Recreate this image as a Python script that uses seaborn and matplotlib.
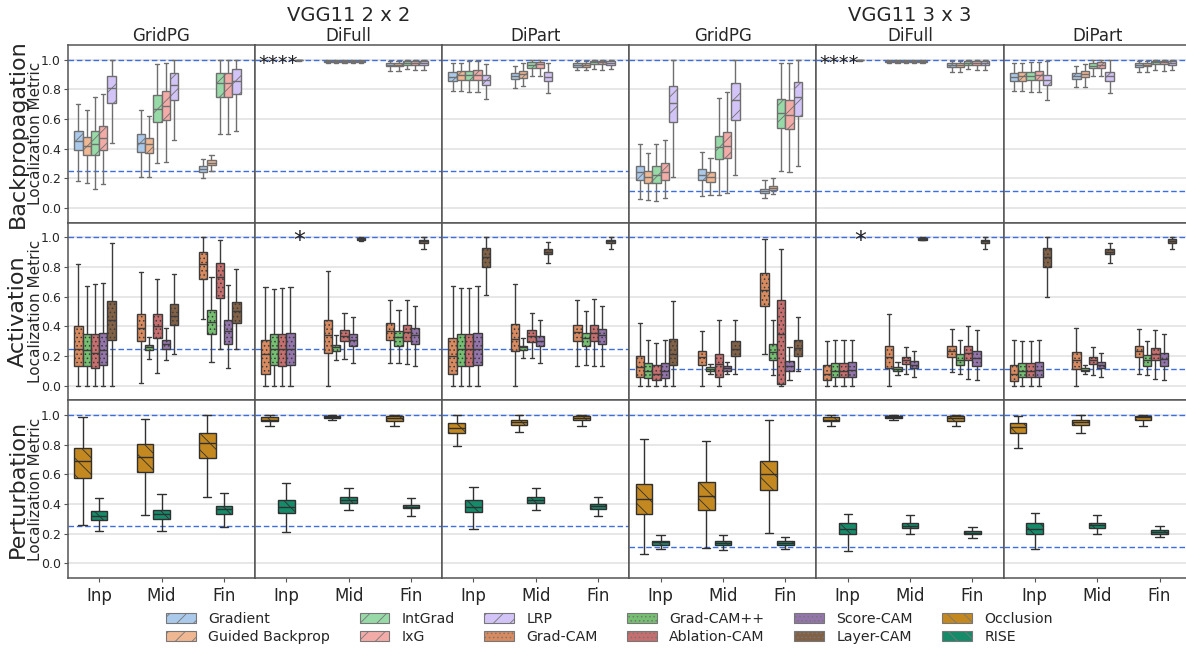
import numpy as np
import pandas as pd
import seaborn as sns
import matplotlib.pyplot as plt
from matplotlib.patches import Patch

# Inputs ---------------------------------------
LAYERS = ['Inp', 'Mid', 'Fin']
SETTINGS = ['GridPG', 'DiFull', 'DiPart']
BP_METHODS = ['Gradient', 'Guided Backprop', 'IntGrad', 'IxG', 'LRP']
ACT_METHODS = ['Grad-CAM', 'Grad-CAM++', 'Ablation-CAM', 'Score-CAM', 'Layer-CAM']
PT_METHODS = ['Occlusion', 'RISE']

# each box: [lower whisker, q1, median, q3, upper whisker]; None -> marked with '*'
BP_GRIDPG_2 = [
    [[0.18, 0.39, 0.45, 0.52, 0.70], [0.17, 0.36, 0.42, 0.48, 0.66], [0.13, 0.36, 0.43, 0.52, 0.75],
     [0.16, 0.39, 0.47, 0.55, 0.77], [0.44, 0.71, 0.81, 0.89, 1.00]],
    [[0.21, 0.38, 0.44, 0.50, 0.66], [0.21, 0.37, 0.43, 0.47, 0.62], [0.30, 0.58, 0.67, 0.76, 0.97],
     [0.31, 0.59, 0.69, 0.79, 0.98], [0.46, 0.73, 0.83, 0.91, 1.00]],
    [[0.20, 0.245, 0.26, 0.28, 0.33], [0.25, 0.29, 0.30, 0.32, 0.36], [0.50, 0.75, 0.84, 0.91, 1.00],
     [0.50, 0.75, 0.84, 0.91, 1.00], [0.52, 0.77, 0.86, 0.94, 1.00]],
]
BP_DIFULL_2 = [
    [None, None, None, None, [0.99, 1.0, 1.0, 1.0, 1.0]],
    [[0.978, 0.986, 0.99, 0.994, 1.0], [0.978, 0.985, 0.99, 0.994, 1.0], [0.98, 0.987, 0.991, 0.995, 1.0],
     [0.98, 0.987, 0.991, 0.995, 1.0], [0.978, 0.986, 0.99, 0.994, 1.0]],
    [[0.925, 0.957, 0.967, 0.978, 0.995], [0.925, 0.955, 0.965, 0.978, 0.995], [0.94, 0.968, 0.975, 0.99, 1.0],
     [0.93, 0.968, 0.978, 0.99, 1.0], [0.93, 0.966, 0.975, 0.99, 1.0]],
]
BP_DIPART_2 = [
    [[0.79, 0.86, 0.886, 0.92, 0.975], [0.79, 0.865, 0.895, 0.925, 0.98], [0.78, 0.865, 0.895, 0.925, 0.99],
     [0.78, 0.865, 0.90, 0.93, 0.99], [0.735, 0.83, 0.865, 0.90, 0.97]],
    [[0.81, 0.87, 0.89, 0.91, 0.96], [0.82, 0.88, 0.905, 0.927, 0.975], [0.89, 0.946, 0.966, 0.984, 1.0],
     [0.89, 0.946, 0.97, 0.988, 1.0], [0.775, 0.855, 0.886, 0.916, 0.975]],
    [[0.93, 0.952, 0.966, 0.98, 0.995], [0.93, 0.95, 0.965, 0.98, 0.995], [0.935, 0.97, 0.985, 0.995, 1.0],
     [0.93, 0.97, 0.982, 0.992, 1.0], [0.935, 0.968, 0.98, 0.992, 1.0]],
]
BP_GRIDPG_3 = [
    [[0.06, 0.19, 0.24, 0.28, 0.43], [0.055, 0.17, 0.21, 0.25, 0.37], [0.045, 0.17, 0.22, 0.28, 0.43],
     [0.065, 0.19, 0.24, 0.30, 0.46], [0.21, 0.58, 0.71, 0.82, 1.00]],
    [[0.08, 0.19, 0.225, 0.265, 0.38], [0.09, 0.175, 0.21, 0.24, 0.34], [0.09, 0.33, 0.41, 0.485, 0.74],
     [0.10, 0.34, 0.42, 0.51, 0.78], [0.22, 0.59, 0.73, 0.84, 1.00]],
    [[0.065, 0.10, 0.115, 0.13, 0.185], [0.095, 0.12, 0.135, 0.15, 0.20], [0.25, 0.54, 0.64, 0.735, 0.98],
     [0.24, 0.535, 0.63, 0.73, 0.98], [0.28, 0.62, 0.75, 0.85, 1.00]],
]
BP_DIFULL_3 = [
    [None, None, None, None, [0.99, 1.0, 1.0, 1.0, 1.0]],
    [[0.978, 0.986, 0.99, 0.994, 1.0], [0.978, 0.985, 0.99, 0.994, 1.0], [0.98, 0.987, 0.991, 0.995, 1.0],
     [0.98, 0.987, 0.991, 0.995, 1.0], [0.978, 0.986, 0.99, 0.994, 1.0]],
    [[0.92, 0.952, 0.962, 0.975, 0.995], [0.92, 0.952, 0.962, 0.975, 0.995], [0.935, 0.966, 0.975, 0.99, 1.0],
     [0.93, 0.966, 0.976, 0.99, 1.0], [0.93, 0.964, 0.975, 0.99, 1.0]],
]
BP_DIPART_3 = [
    [[0.79, 0.86, 0.886, 0.91, 0.975], [0.79, 0.86, 0.893, 0.92, 0.98], [0.78, 0.865, 0.893, 0.92, 0.985],
     [0.78, 0.866, 0.898, 0.923, 0.985], [0.73, 0.83, 0.866, 0.90, 0.99]],
    [[0.814, 0.871, 0.891, 0.909, 0.957], [0.818, 0.882, 0.905, 0.925, 0.973], [0.89, 0.943, 0.961, 0.98, 1.0],
     [0.893, 0.946, 0.968, 0.984, 1.0], [0.775, 0.859, 0.889, 0.916, 1.0]],
    [[0.916, 0.952, 0.965, 0.977, 0.995], [0.916, 0.955, 0.966, 0.98, 0.995], [0.934, 0.973, 0.985, 0.995, 1.0],
     [0.927, 0.973, 0.982, 0.995, 1.0], [0.934, 0.968, 0.98, 0.995, 1.0]],
]

ACT_GRIDPG_2 = [
    [[0.0, 0.13, 0.25, 0.40, 0.82], [0.0, 0.135, 0.24, 0.35, 0.67], [0.0, 0.12, 0.22, 0.345, 0.685],
     [0.0, 0.14, 0.24, 0.355, 0.69], [0.0, 0.31, 0.44, 0.57, 0.965]],
    [[0.02, 0.30, 0.39, 0.485, 0.77], [0.18, 0.237, 0.26, 0.275, 0.33], [0.085, 0.32, 0.40, 0.48, 0.72],
     [0.17, 0.25, 0.28, 0.305, 0.39], [0.215, 0.41, 0.47, 0.55, 0.755]],
    [[0.45, 0.72, 0.82, 0.90, 1.0], [0.16, 0.35, 0.43, 0.51, 0.73], [0.25, 0.59, 0.73, 0.83, 0.98],
     [0.12, 0.28, 0.37, 0.44, 0.68], [0.25, 0.42, 0.50, 0.565, 0.785]],
]
ACT_DIFULL_2 = [
    [[0.0, 0.075, 0.215, 0.31, 0.665], [0.0, 0.14, 0.25, 0.35, 0.655], [0.0, 0.135, 0.25, 0.35, 0.66],
     [0.0, 0.14, 0.25, 0.355, 0.665], None],
    [[0.0, 0.22, 0.34, 0.445, 0.775], [0.17, 0.233, 0.257, 0.276, 0.34], [0.18, 0.30, 0.335, 0.373, 0.49],
     [0.15, 0.265, 0.305, 0.345, 0.46], [0.975, 0.985, 0.99, 0.993, 1.0]],
    [[0.155, 0.31, 0.365, 0.42, 0.58], [0.15, 0.27, 0.33, 0.365, 0.51], [0.145, 0.30, 0.36, 0.41, 0.58],
     [0.135, 0.28, 0.34, 0.39, 0.54], [0.925, 0.96, 0.975, 0.985, 1.0]],
]
ACT_DIPART_2 = [
    [[0.0, 0.08, 0.20, 0.32, 0.67], [0.0, 0.135, 0.25, 0.35, 0.66], [0.0, 0.135, 0.25, 0.35, 0.66],
     [0.0, 0.14, 0.25, 0.355, 0.67], [0.61, 0.80, 0.87, 0.93, 1.0]],
    [[0.0, 0.23, 0.315, 0.415, 0.685], [0.185, 0.237, 0.26, 0.27, 0.32], [0.185, 0.295, 0.335, 0.373, 0.49],
     [0.15, 0.265, 0.30, 0.335, 0.44], [0.83, 0.885, 0.905, 0.92, 0.97]],
    [[0.135, 0.30, 0.36, 0.41, 0.58], [0.14, 0.27, 0.32, 0.355, 0.50], [0.13, 0.30, 0.355, 0.41, 0.585],
     [0.135, 0.28, 0.34, 0.385, 0.535], [0.925, 0.96, 0.975, 0.985, 1.0]],
]
ACT_GRIDPG_3 = [
    [[0.0, 0.055, 0.125, 0.20, 0.425], [0.0, 0.05, 0.10, 0.15, 0.305], [0.0, 0.04, 0.08, 0.14, 0.29],
     [0.0, 0.05, 0.10, 0.15, 0.31], [0.0, 0.14, 0.215, 0.315, 0.57]],
    [[0.0, 0.14, 0.19, 0.23, 0.37], [0.08, 0.10, 0.113, 0.124, 0.147], [0.0, 0.055, 0.145, 0.21, 0.44],
     [0.075, 0.10, 0.117, 0.13, 0.158], [0.08, 0.20, 0.25, 0.30, 0.44]],
    [[0.215, 0.535, 0.645, 0.76, 0.99], [0.07, 0.175, 0.225, 0.28, 0.44], [0.0, 0.007, 0.35, 0.58, 0.92],
     [0.035, 0.10, 0.13, 0.163, 0.26], [0.095, 0.20, 0.255, 0.31, 0.465]],
]
ACT_DIFULL_3 = [
    [[0.0, 0.035, 0.08, 0.14, 0.30], [0.0, 0.055, 0.10, 0.15, 0.305], [0.0, 0.055, 0.10, 0.15, 0.305],
     [0.0, 0.055, 0.105, 0.158, 0.305], None],
    [[0.0, 0.12, 0.19, 0.265, 0.485], [0.07, 0.097, 0.113, 0.124, 0.158], [0.075, 0.147, 0.175, 0.196, 0.26],
     [0.06, 0.12, 0.14, 0.165, 0.235], [0.98, 0.985, 0.99, 0.995, 1.0]],
    [[0.09, 0.19, 0.23, 0.265, 0.385], [0.075, 0.14, 0.175, 0.21, 0.31], [0.045, 0.17, 0.22, 0.265, 0.40],
     [0.04, 0.135, 0.185, 0.23, 0.375], [0.925, 0.96, 0.975, 0.985, 1.0]],
]
ACT_DIPART_3 = [
    [[0.0, 0.03, 0.08, 0.14, 0.31], [0.0, 0.055, 0.10, 0.15, 0.30], [0.0, 0.055, 0.10, 0.15, 0.30],
     [0.0, 0.055, 0.105, 0.158, 0.305], [0.595, 0.80, 0.865, 0.93, 1.0]],
    [[0.0, 0.113, 0.17, 0.225, 0.39], [0.075, 0.097, 0.108, 0.12, 0.14], [0.072, 0.147, 0.17, 0.19, 0.26],
     [0.056, 0.117, 0.14, 0.158, 0.22], [0.83, 0.885, 0.905, 0.925, 0.965]],
    [[0.075, 0.19, 0.23, 0.265, 0.385], [0.07, 0.135, 0.17, 0.205, 0.30], [0.045, 0.17, 0.215, 0.255, 0.375],
     [0.04, 0.135, 0.18, 0.22, 0.35], [0.925, 0.96, 0.975, 0.99, 1.0]],
]

PT_GRIDPG_2 = [
    [[0.26, 0.575, 0.69, 0.78, 0.99], [0.215, 0.295, 0.32, 0.35, 0.44]],
    [[0.325, 0.615, 0.715, 0.805, 0.975], [0.215, 0.30, 0.335, 0.36, 0.465]],
    [[0.45, 0.71, 0.81, 0.88, 1.0], [0.245, 0.33, 0.365, 0.385, 0.475]],
]
PT_DIFULL_2 = [
    [[0.925, 0.96, 0.97, 0.985, 1.0], [0.21, 0.34, 0.38, 0.43, 0.54]],
    [[0.97, 0.98, 0.988, 0.995, 1.0], [0.36, 0.41, 0.43, 0.45, 0.505]],
    [[0.925, 0.96, 0.98, 0.995, 1.0], [0.32, 0.37, 0.38, 0.395, 0.44]],
]
PT_DIPART_2 = [
    [[0.79, 0.88, 0.915, 0.95, 1.0], [0.23, 0.345, 0.38, 0.425, 0.515]],
    [[0.885, 0.935, 0.957, 0.97, 1.0], [0.36, 0.41, 0.43, 0.45, 0.505]],
    [[0.93, 0.97, 0.982, 0.995, 1.0], [0.32, 0.367, 0.383, 0.40, 0.445]],
]
PT_GRIDPG_3 = [
    [[0.065, 0.335, 0.435, 0.535, 0.84], [0.093, 0.126, 0.142, 0.153, 0.19]],
    [[0.105, 0.36, 0.455, 0.55, 0.825], [0.09, 0.12, 0.138, 0.15, 0.19]],
    [[0.205, 0.495, 0.60, 0.69, 0.97], [0.097, 0.124, 0.138, 0.149, 0.18]],
]
PT_DIFULL_3 = [
    [[0.925, 0.96, 0.97, 0.985, 1.0], [0.08, 0.195, 0.23, 0.27, 0.335]],
    [[0.97, 0.98, 0.988, 0.995, 1.0], [0.20, 0.236, 0.25, 0.273, 0.327]],
    [[0.925, 0.96, 0.98, 0.992, 1.0], [0.17, 0.194, 0.205, 0.216, 0.243]],
]
PT_DIPART_3 = [
    [[0.78, 0.88, 0.92, 0.95, 0.995], [0.097, 0.20, 0.23, 0.27, 0.34]],
    [[0.88, 0.935, 0.957, 0.97, 1.0], [0.20, 0.236, 0.255, 0.273, 0.327]],
    [[0.93, 0.97, 0.987, 0.995, 1.0], [0.175, 0.194, 0.21, 0.221, 0.25]],
]

GRIDS = ['VGG11 2 x 2', 'VGG11 3 x 3']
BASELINES = [0.25, 1 / 9]
# -----------------------------------------------

pastel = sns.color_palette('pastel')
muted = sns.color_palette('muted')
cblind = sns.color_palette('colorblind')

# row name, methods, colours, hatch, panels (2x2 GridPG/DiFull/DiPart, 3x3 ...), slots per group
ROWS = [
    ('Backpropagation', BP_METHODS, pastel[0:5], '//',
     [BP_GRIDPG_2, BP_DIFULL_2, BP_DIPART_2, BP_GRIDPG_3, BP_DIFULL_3, BP_DIPART_3], 6),
    ('Activation', ACT_METHODS, muted[1:6], '....',
     [ACT_GRIDPG_2, ACT_DIFULL_2, ACT_DIPART_2, ACT_GRIDPG_3, ACT_DIFULL_3, ACT_DIPART_3], 6),
    ('Perturbation', PT_METHODS, cblind[1:3], '\\\\',
     [PT_GRIDPG_2, PT_DIFULL_2, PT_DIPART_2, PT_GRIDPG_3, PT_DIFULL_3, PT_DIPART_3], 3),
]


def long_table(cells, methods):
    recs = []
    for layer, boxes in zip(LAYERS, cells):
        for method, box in zip(methods, boxes):
            if box is None:
                continue
            for v in box:
                recs.append((layer, method, v))
    return pd.DataFrame(recs, columns=['layer', 'method', 'score'])


sns.set_style('ticks')
plt.rcParams['hatch.linewidth'] = 0.6

fig, axes = plt.subplots(3, 6, figsize=(11.86, 6.48), dpi=100, sharex=True, sharey=True)
fig.subplots_adjust(left=0.0573, right=1.004, top=0.9306, bottom=0.108, wspace=0, hspace=0)

for r, (row_name, methods, colours, hatch, panels, nslots) in enumerate(ROWS):
    hue_order = methods + ['pad%d' % i for i in range(nslots - len(methods))]
    pal = dict(zip(methods, colours))
    for extra in hue_order[len(methods):]:
        pal[extra] = colours[0]
    for c, cells in enumerate(panels):
        ax = axes[r, c]
        df = long_table(cells, methods)
        ax.yaxis.grid(True, color='#e3e3e3', linewidth=1.2, zorder=0)
        ax.set_axisbelow(True)
        sns.boxplot(data=df, x='layer', y='score', hue='method', order=LAYERS,
                    hue_order=hue_order, palette=pal, width=0.8, whis=(0, 100),
                    linewidth=1, legend=False, ax=ax)
        for p in ax.patches:
            p.set_hatch(hatch)
        for yl in (1.0, BASELINES[c // 3]):
            ax.axhline(yl, color='#3d6ee0', linestyle=(0, (4, 2)), linewidth=1.0, zorder=1.5)
        # boxes where every image scores 1.0 are marked with an asterisk
        # (neighbouring ones are written as one run of asterisks)
        w = 0.8 / nslots
        for i, boxes in enumerate(cells):
            starred = [k for k, box in enumerate(boxes) if box is None]
            if starred:
                xs = [i - 0.4 + (k + 0.5) * w for k in starred]
                ax.text(np.mean(xs), 0.975, '*' * len(starred), ha='center', va='center',
                        fontsize=17 if len(starred) == 1 else 14, color='#222222')
        ax.set_xlabel('')
        ax.set_ylabel('')
        for s in ax.spines.values():
            s.set_color('#555555')
            s.set_linewidth(1.1)
        if r == 0:
            ax.set_title(SETTINGS[c % 3], fontsize=12, pad=3)
        if r < 2:
            ax.tick_params(axis='x', bottom=False)
        else:
            ax.tick_params(axis='x', labelsize=12, length=3, color='#555555')
        if c > 0:
            ax.tick_params(axis='y', left=False)
        else:
            ax.tick_params(axis='y', labelsize=9, length=3, color='#555555', pad=2)
            ax.set_ylabel('Localization Metric', fontsize=11)
            ax.yaxis.set_label_coords(-0.132, 0.5)
            ax.text(-0.268, 0.5, row_name, transform=ax.transAxes, rotation=90,
                    ha='center', va='center', fontsize=16)

axes[0, 0].set_ylim(-0.1, 1.1)
axes[0, 0].set_xlim(-0.5, 2.5)
axes[0, 0].set_yticks([0.0, 0.2, 0.4, 0.6, 0.8, 1.0])

for g, name in enumerate(GRIDS):
    left = axes[0, 3 * g].get_position().x0
    right = axes[0, 3 * g + 2].get_position().x1
    fig.text((left + right) / 2, 0.976, name, ha='center', va='center', fontsize=14)

handles = []
for row_name, methods, colours, hatch, panels, nslots in ROWS:
    for m, col in zip(methods, colours):
        handles.append(Patch(facecolor=sns.desaturate(col, 0.75), edgecolor='#777777',
                             hatch=hatch, linewidth=0.8, label=m))
fig.legend(handles=handles, loc='upper center', bbox_to_anchor=(0.514, 0.075), ncol=6,
           frameon=False, fontsize=10.2, labelspacing=0.3, columnspacing=2.1,
           handlelength=2.1, handletextpad=0.85)

plt.savefig('out.png', dpi=100)
